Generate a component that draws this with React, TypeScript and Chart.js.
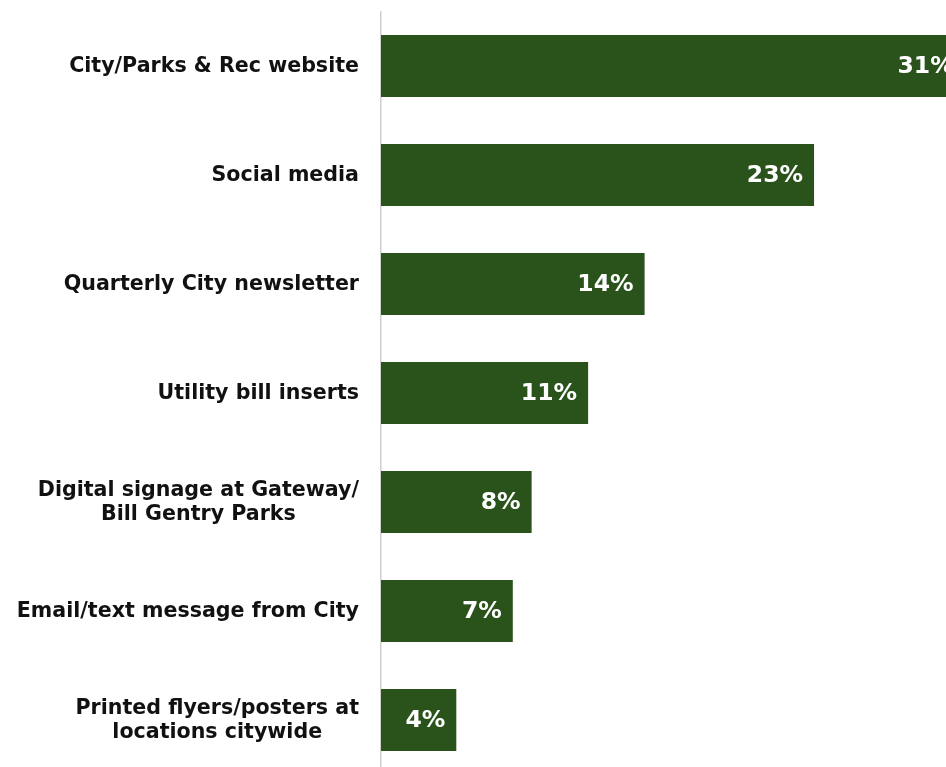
import React, { useEffect, useRef } from "react";
import { Chart, registerables } from "chart.js";

Chart.register(...registerables);

const categories: string[][] = [
  ["City/Parks & Rec website"],
  ["Social media"],
  ["Quarterly City newsletter"],
  ["Utility bill inserts"],
  ["Digital signage at Gateway/", "Bill Gentry Parks"],
  ["Email/text message from City"],
  ["Printed flyers/posters at", "locations citywide"],
];
const values: number[] = [31, 23, 14, 11, 8, 7, 4];
const valueLabels: string[] = ["31%", "23%", "14%", "11%", "8%", "7%", "4%"];

const BAR_COLOR = "#2a531b";
const FONT = "DejaVu Sans";

const labelPlugin = {
  id: "customLabels",
  afterDatasetsDraw(chart: any) {
    const ctx = chart.ctx;
    const yScale = chart.scales.y;
    const meta = chart.getDatasetMeta(0);
    ctx.save();
    // category labels: block right aligned, lines centered within block
    ctx.font = `bold 20.6px "${FONT}"`;
    ctx.fillStyle = "#111111";
    ctx.textBaseline = "middle";
    ctx.textAlign = "center";
    const lineH = 24;
    const rightEdge = yScale.right - 22;
    categories.forEach((lines, i) => {
      const cy = yScale.getPixelForTick(i);
      const maxW = Math.max(...lines.map((l) => ctx.measureText(l).width));
      const cx = rightEdge - maxW / 2;
      const startY = cy - ((lines.length - 1) * lineH) / 2;
      lines.forEach((l, j) => {
        ctx.fillText(l, cx, startY + j * lineH + 1);
      });
    });
    // value labels
    ctx.font = `bold 23.5px "${FONT}"`;
    ctx.fillStyle = "#ffffff";
    ctx.textAlign = "right";
    meta.data.forEach((bar: any, i: number) => {
      ctx.fillText(valueLabels[i], bar.x - 11, bar.y + 1);
    });
    ctx.restore();
  },
};

export default function App() {
  const ref = useRef<HTMLCanvasElement>(null);
  useEffect(() => {
    if (!ref.current) return;
    const chart = new Chart(ref.current, {
      type: "bar",
      data: {
        labels: categories.map((c) => c.join(" ")),
        datasets: [
          {
            data: values,
            backgroundColor: BAR_COLOR,
            borderWidth: 0,
            categoryPercentage: 1,
            barPercentage: 0.57,
          },
        ],
      },
      options: {
        indexAxis: "y",
        animation: false,
        responsive: false,
        devicePixelRatio: 1,
        layout: { padding: { top: 11.5, bottom: 11.5, left: 0, right: 0 } },
        plugins: {
          legend: { display: false },
          tooltip: { enabled: false },
        },
        scales: {
          x: { display: false, min: 0, max: 35 },
          y: {
            grid: { display: true, drawOnChartArea: false, drawTicks: false, color: "rgba(0,0,0,0)" },
            border: { display: true, color: "#cfcfcf", width: 1.5 },
            ticks: { display: false },
            afterFit: (scale: any) => {
              scale.width = 381;
            },
          },
        },
      },
      plugins: [labelPlugin],
    });
    return () => chart.destroy();
  }, []);
  return (
    <div
      style={{
        position: "fixed",
        left: 0,
        top: 0,
        width: 946,
        height: 767,
        overflow: "hidden",
        background: "#ffffff",
      }}
    >
      <canvas ref={ref} width={1040} height={786} style={{ display: "block" }} />
    </div>
  );
}
